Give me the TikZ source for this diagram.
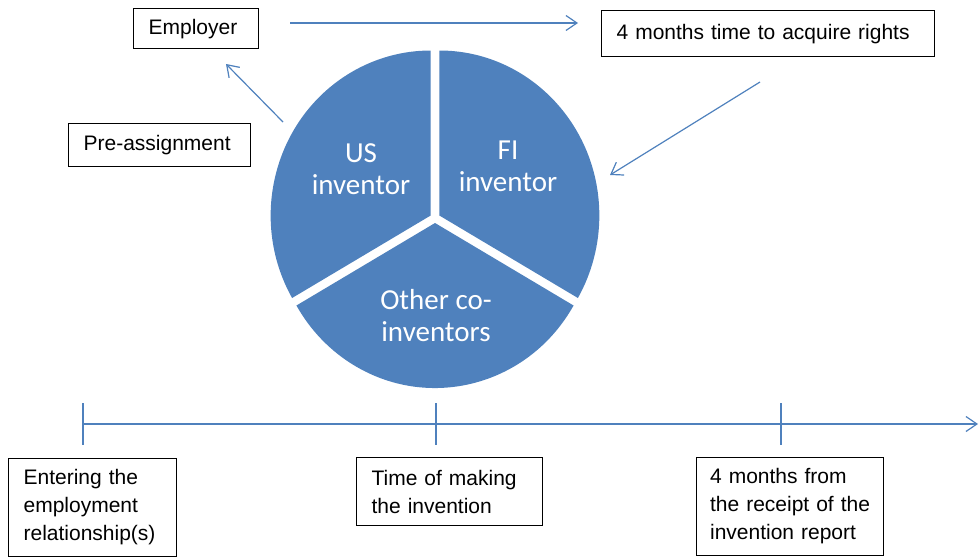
\documentclass[tikz,border=0pt]{standalone}
\usepackage{fontspec}
\setmainfont{Liberation Sans}
\newfontfamily\piefont{Carlito}
\usetikzlibrary{arrows.meta}
\definecolor{officeblue}{HTML}{4F81BD}

\begin{document}
\begin{tikzpicture}[x=1pt, y=-1pt,
  textbox/.style={draw, line width=1.2pt, anchor=north west, align=left,
    inner xsep=15pt, font=\fontsize{21}{28}\selectfont},
  toplabel/.style={textbox, inner ysep=0pt},
  timelabel/.style={textbox, inner ysep=11pt},
  blueline/.style={officeblue, line width=1.2pt},
  bluearrow/.style={blueline, -{Straight Barb[length=11pt, width=15pt, line width=1.2pt]}},
  pietext/.style={white, align=center, inner sep=0pt, font=\piefont\fontsize{29}{32}\selectfont}]

\useasboundingbox (0,0) rectangle (979,557);

%% pie: three slices, each pushed out a little along its middle
\foreach \a/\b in {150/270, -90/30, 30/150} {
  \pgfmathsetmacro{\m}{(\a+\b)/2}
  \fill[officeblue, shift={(\m:5)}] (435,218) -- ++(\a:160 and 165)
    arc[start angle=\a, end angle=\b, x radius=160, y radius=165] -- cycle;
}
\node[pietext] (us) at (361,169.6) {US\\inventor};
\node[pietext] (fi) at (508,166.7) {FI\\inventor};
\node[pietext] (other) at (436,315.1) {Other co-\\inventors};

%% boxes at the top
\node[toplabel, text width=95pt, minimum height=40pt] (employer) at (133,8) {Employer};
\node[toplabel, text width=303pt, minimum height=46pt] (acquire) at (601,10) {4 months time to acquire rights};
\node[toplabel, text width=152pt, minimum height=43pt] (preassign) at (68,123) {Pre-assignment};

%% arrows
\coordinate (empfrom) at (290,23);
\coordinate (empto) at (578,23);
\coordinate (usfrom) at (283,122);
\coordinate (usto) at (226,64);
\coordinate (acqfrom) at (760,82);
\coordinate (acqto) at (610,175);
\draw[bluearrow] (empfrom) -- (empto);
\draw[bluearrow] (usfrom) -- (usto);
\draw[bluearrow] (acqfrom) -- (acqto);

%% time line
\coordinate (tstart) at (83,424);
\coordinate (tend) at (978,424);
\draw[bluearrow] (tstart) -- (tend);
\foreach \x in {83,436,781}
  \draw[blueline] (\x,403) -- (\x,445);

\node[timelabel, text width=138pt] (entering) at (8,458) {Entering the\\employment\\relationship(s)};
\node[timelabel, text width=156pt, minimum height=68pt] (making) at (356,457) {Time of making\\the invention};
\node[timelabel, text width=160pt, inner xsep=13.5pt] (report) at (696,457) {4 months from\\the receipt of the\\invention report};

\end{tikzpicture}
\end{document}
